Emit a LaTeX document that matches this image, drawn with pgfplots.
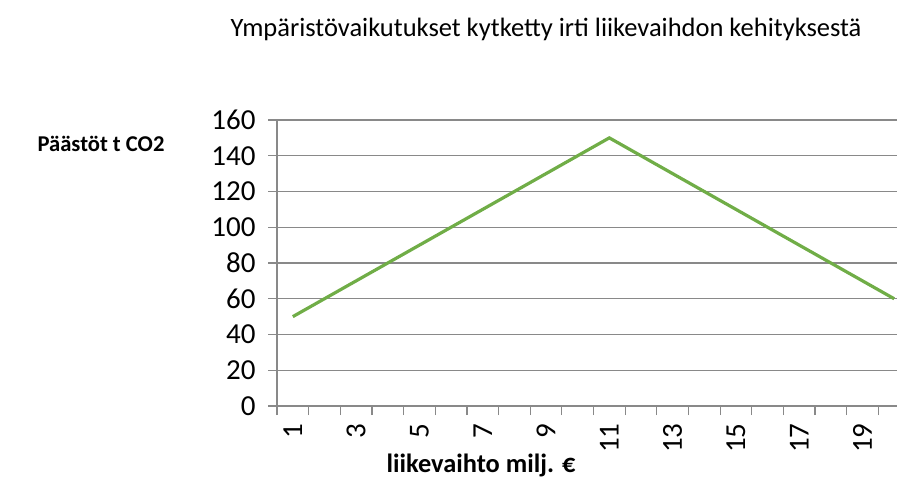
\documentclass[border=0pt]{standalone}
\usepackage{fontspec}
\setmainfont{Carlito}
\usepackage{pgfplots}
\pgfplotsset{compat=1.18}
\definecolor{linegreen}{HTML}{70AD47}
\definecolor{gridgray}{HTML}{898989}
\begin{document}
\begin{tikzpicture}
\useasboundingbox (0,0) rectangle (897bp,477bp);
\begin{axis}[
  at={(277bp,71bp)}, anchor=south west,
  scale only axis, width=633bp, height=286bp,
  xmin=0.5, xmax=20.5, ymin=0, ymax=160,
  axis lines*=left,
  axis line style={gridgray, line width=1.2bp},
  tick style={gridgray, line width=1.2bp},
  tick align=outside, major tick length=9bp,
  xtick={0.5,1.5,...,20.5}, xticklabels={},
  extra x ticks={1,3,...,19},
  extra x tick labels={1,3,5,7,9,11,13,15,17,19},
  extra x tick style={major tick length=0pt, xmajorgrids=false,
     tick label style={rotate=90, anchor=east, xshift=-14bp}},
  ytick={0,20,...,160},
  ymajorgrids, grid style={gridgray, line width=1.2bp},
  tick label style={font=\fontsize{29bp}{34bp}\selectfont},
  yticklabel style={xshift=-9bp},
  /pgf/number format/assume math mode=true,
  clip=false,
]
\addplot[linegreen, line width=3.2bp] coordinates {
 (1,50)(2,60)(3,70)(4,80)(5,90)(6,100)(7,110)(8,120)(9,130)(10,140)
 (11,150)(12,140)(13,130)(14,120)(15,110)(16,100)(17,90)(18,80)(19,70)(20,60)};
\end{axis}
\node[font=\fontsize{26.5bp}{30bp}\selectfont] at (546bp,448bp) {Ympäristövaikutukset kytketty irti liikevaihdon kehityksestä};
\node[font=\fontsize{22.6bp}{27bp}\selectfont\bfseries] at (101bp,333bp) {Päästöt t CO2};
\node[font=\fontsize{26.4bp}{30bp}\selectfont\bfseries] at (481bp,12bp) {liikevaihto milj. €};
\end{tikzpicture}
\end{document}
